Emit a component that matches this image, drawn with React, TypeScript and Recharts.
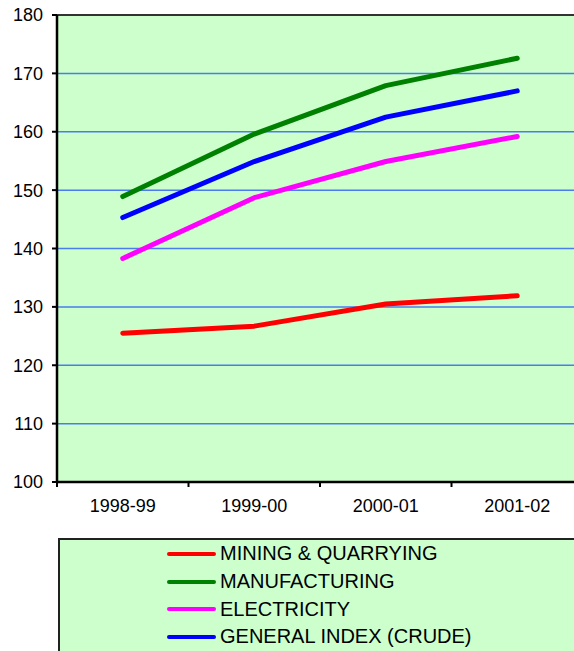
import React from "react";
import {
  LineChart,
  Line,
  XAxis,
  YAxis,
  CartesianGrid,
  Legend,
  ReferenceLine,
} from "recharts";

const categories = ["1998-99", "1999-00", "2000-01", "2001-02"];
const mining = [125.5, 126.7, 130.5, 131.9];
const manufacturing = [148.9, 159.6, 167.9, 172.6];
const electricity = [138.3, 148.7, 154.9, 159.2];
const generalIndex = [145.3, 154.9, 162.5, 167.0];
const yTicks = [100, 110, 120, 130, 140, 150, 160, 170, 180];

const seriesList = [
  { key: "mining", name: "MINING & QUARRYING", color: "#ff0000", values: mining },
  { key: "manufacturing", name: "MANUFACTURING", color: "#008000", values: manufacturing },
  { key: "electricity", name: "ELECTRICITY", color: "#ff00ff", values: electricity },
  { key: "general", name: "GENERAL INDEX (CRUDE)", color: "#0000ff", values: generalIndex },
];

const data = categories.map((c, i) => {
  const row: Record<string, any> = { category: c };
  seriesList.forEach((s) => {
    row[s.key] = s.values[i];
  });
  return row;
});

const FONT = "'Liberation Sans', Arial, sans-serif";

const XTick = (props: any) => {
  const { x, y, payload } = props;
  const off = payload && typeof payload.offset === "number" ? payload.offset : 0;
  return (
    <g>
      <line x1={x - off} x2={x - off} y1={y - 15} y2={y - 10} stroke="#000" strokeWidth={2} />
      <text
        x={x}
        y={y + 9}
        dy="0.355em"
        textAnchor="middle"
        fontSize={18}
        fontFamily={FONT}
        fill="#000"
      >
        {payload.value}
      </text>
    </g>
  );
};

const LegendBox = () => (
  <div
    style={{
      marginLeft: 50,
      borderTop: "2px solid #222",
      borderLeft: "2px solid #222",
      background: "#ccffcc",
      height: 113,
      paddingLeft: 107,
      paddingTop: 0,
      boxSizing: "border-box",
      fontFamily: FONT,
      overflow: "hidden",
    }}
  >
    {seriesList.map((s) => (
      <div
        key={s.key}
        style={{ display: "flex", alignItems: "center", height: 27.7 }}
      >
        <div
          style={{
            width: 49,
            height: 4,
            borderRadius: 2,
            background: s.color,
            marginRight: 4,
          }}
        />
        <span style={{ fontSize: 20, color: "#000", letterSpacing: 0, whiteSpace: "nowrap" }}>
          {s.name}
        </span>
      </div>
    ))}
  </div>
);

export default function App() {
  return (
    <div
      style={{
        position: "absolute",
        top: 0,
        left: 8,
        width: 566,
        height: 651,
        overflow: "hidden",
      }}
    >
      <LineChart
        width={600}
        height={651}
        data={data}
        margin={{ top: 15, right: 25, bottom: 0, left: 0 }}
        style={{ fontFamily: FONT }}
      >
        <CartesianGrid
          vertical={false}
          horizontal={true}
          fill="#ccffcc"
          stroke="#4a7cf0"
          strokeWidth={1.5}
        />
        <XAxis
          dataKey="category"
          scale="band"
          height={56}
          tickLine={false}
          tickSize={5}
          tickMargin={10}
          axisLine={{ stroke: "#000", strokeWidth: 2.5 }}
          tick={<XTick />}
          interval={0}
        />
        <YAxis
          width={49}
          domain={[100, 180]}
          ticks={yTicks}
          tickSize={5}
          tickMargin={9}
          axisLine={{ stroke: "#000", strokeWidth: 2.5 }}
          tickLine={{ stroke: "#000", strokeWidth: 2 }}
          tick={{ fontSize: 18, fill: "#000", fontFamily: FONT }}
          interval={0}
        />
        <ReferenceLine y={180} stroke="#333" strokeWidth={2} />
        {seriesList.map((s) => (
          <Line
            key={s.key}
            type="linear"
            dataKey={s.key}
            name={s.name}
            stroke={s.color}
            strokeWidth={5}
            strokeLinecap="round"
            strokeLinejoin="round"
            dot={false}
            activeDot={false}
            isAnimationActive={false}
          />
        ))}
        <Legend
          verticalAlign="bottom"
          height={113}
          wrapperStyle={{ left: 0, top: 538, bottom: "auto", width: 600 }}
          content={<LegendBox />}
        />
      </LineChart>
    </div>
  );
}
